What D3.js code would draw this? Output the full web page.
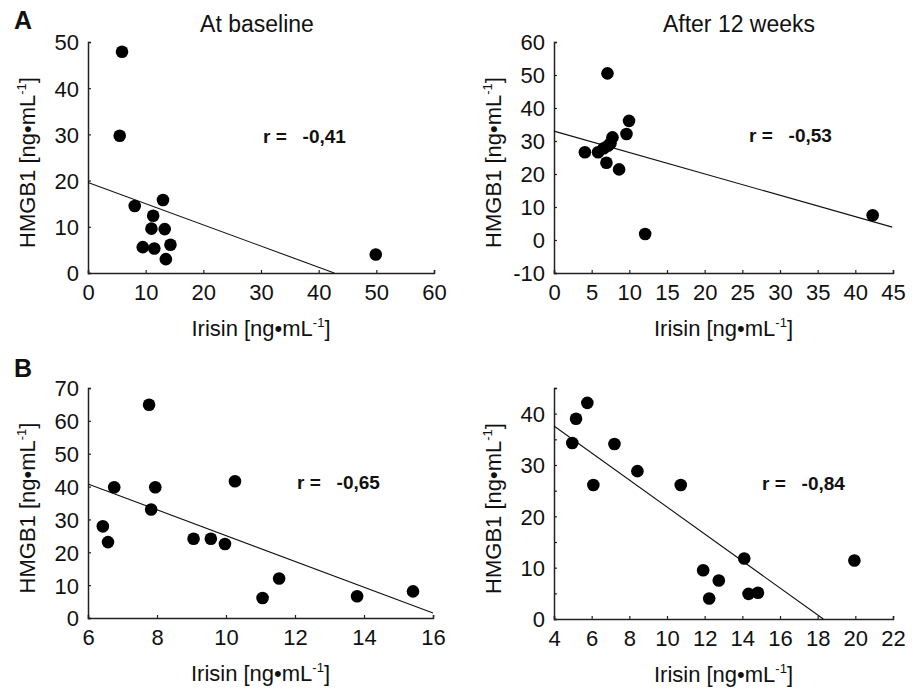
<!DOCTYPE html>
<html>
<head>
<meta charset="utf-8">
<script src="https://cdn.jsdelivr.net/npm/d3@7"></script>
<style>
  body { margin: 0; background: #fff; }
  text { font-family: "Liberation Sans", Arial, sans-serif; fill: #111; }
</style>
</head>
<body>
<div id="chart"></div>
<script>
// Panel A, at baseline
var a1Irisin = [5.9, 5.5, 8.1, 13.0, 11.3, 11.0, 13.3, 9.5, 11.5, 14.3, 13.5, 49.9];
var a1Hmgb1  = [47.9, 29.7, 14.5, 15.8, 12.4, 9.6, 9.5, 5.6, 5.3, 6.1, 3.0, 4.0];
var a1Fit    = [[0, 19.6], [42.7, 0]];

// Panel A, after 12 weeks
var a2Irisin = [7.1, 4.1, 5.85, 6.6, 7.5, 7.2, 7.76, 9.62, 9.96, 6.96, 8.64, 12.1, 42.3];
var a2Hmgb1  = [50.5, 26.6, 26.6, 27.8, 29.3, 28.6, 31.1, 32.1, 36.1, 23.4, 21.4, 1.8, 7.5];
var a2Fit    = [[0, 33.0], [44.9, 3.9]];

// Panel B, at baseline
var b1Irisin = [7.77, 6.76, 7.95, 10.26, 7.83, 6.43, 6.58, 9.06, 9.56, 9.97, 11.54, 11.06, 13.8, 15.42];
var b1Hmgb1  = [64.9, 39.8, 39.8, 41.6, 33.0, 27.9, 23.1, 24.1, 24.1, 22.5, 12.0, 6.1, 6.6, 8.1];
var b1Fit    = [[6, 40.8], [16, 1.5]];

// Panel B, after 12 weeks
var b2Irisin = [5.77, 5.17, 4.97, 7.21, 6.09, 8.43, 10.73, 14.1, 19.95, 11.92, 12.75, 12.24, 14.33, 14.83];
var b2Hmgb1  = [42.1, 39.0, 34.3, 34.1, 26.1, 28.8, 26.1, 11.8, 11.4, 9.5, 7.5, 4.0, 4.9, 5.1];
var b2Fit    = [[4, 37.6], [18.3, 0]];

var rValues = ["-0,41", "-0,53", "-0,65", "-0,84"];
var titles = ["At baseline", "After 12 weeks"];
var panelLetters = ["A", "B"];

var a1XTicks = [0, 10, 20, 30, 40, 50, 60], a1YTicks = [0, 10, 20, 30, 40, 50];
var a2XTicks = [0, 5, 10, 15, 20, 25, 30, 35, 40, 45], a2YTicks = [-10, 0, 10, 20, 30, 40, 50, 60];
var b1XTicks = [6, 8, 10, 12, 14, 16], b1YTicks = [0, 10, 20, 30, 40, 50, 60, 70];
var b2XTicks = [4, 6, 8, 10, 12, 14, 16, 18, 20, 22], b2YTicks = [0, 5, 10, 15, 20, 25, 30, 35, 40, 45];
var b2YLabels = [0, 10, 20, 30, 40];

var svg = d3.select("#chart").append("svg")
  .attr("width", 914)
  .attr("height", 691);

var panels = [
  {x: a1Irisin, y: a1Hmgb1, fit: a1Fit, xd: [0, 60], yd: [0, 50], xt: a1XTicks, yt: a1YTicks, yl: a1YTicks,
   box: {l: 88, r: 434, t: 42, b: 273}, r: rValues[0], rx: 263, ry: 143},
  {x: a2Irisin, y: a2Hmgb1, fit: a2Fit, xd: [0, 45], yd: [-10, 60], xt: a2XTicks, yt: a2YTicks, yl: a2YTicks,
   box: {l: 554, r: 893, t: 42, b: 273}, r: rValues[1], rx: 749, ry: 142},
  {x: b1Irisin, y: b1Hmgb1, fit: b1Fit, xd: [6, 16], yd: [0, 70], xt: b1XTicks, yt: b1YTicks, yl: b1YTicks,
   box: {l: 88, r: 433, t: 388, b: 618}, r: rValues[2], rx: 297, ry: 489},
  {x: b2Irisin, y: b2Hmgb1, fit: b2Fit, xd: [4, 22], yd: [0, 45], xt: b2XTicks, yt: b2YTicks, yl: b2YLabels,
   box: {l: 554, r: 893, t: 388, b: 619}, r: rValues[3], rx: 762, ry: 490}
];

panels.forEach(function(p, i) {
  var x = d3.scaleLinear().domain(p.xd).range([p.box.l, p.box.r]);
  var y = d3.scaleLinear().domain(p.yd).range([p.box.b, p.box.t]);
  var g = svg.append("g");

  // x axis, small ticks pointing inward
  var xa = g.append("g")
    .attr("transform", "translate(0," + p.box.b + ")")
    .call(d3.axisBottom(x).tickValues(p.xt).tickSize(-3).tickPadding(10).tickFormat(d3.format("d")));
  // y axis
  var ya = g.append("g")
    .attr("transform", "translate(" + p.box.l + ",0)")
    .call(d3.axisLeft(y).tickValues(p.yt).tickSize(-3).tickPadding(9)
      .tickFormat(function(d) { return p.yl.indexOf(d) >= 0 ? d : ""; }));

  [xa, ya].forEach(function(a) {
    a.select(".domain").attr("stroke", "#222").attr("stroke-width", 1.5);
    a.selectAll(".tick line").attr("stroke", "#222").attr("stroke-width", 1.2);
    a.selectAll(".tick text")
      .style("font-family", '"Liberation Sans", Arial, sans-serif')
      .attr("font-size", 22)
      .attr("fill", "#111");
  });
  xa.selectAll(".tick text").attr("dy", "0.75em");
  ya.selectAll(".tick text").attr("dy", "0.36em");

  // regression line
  g.append("path")
    .datum(p.fit)
    .attr("fill", "none")
    .attr("stroke", "#111")
    .attr("stroke-width", 1.1)
    .attr("d", d3.line().x(function(d) { return x(d[0]); }).y(function(d) { return y(d[1]); }));

  // points
  g.selectAll("circle")
    .data(d3.range(p.x.length))
    .enter().append("circle")
    .attr("cx", function(k) { return x(p.x[k]); })
    .attr("cy", function(k) { return y(p.y[k]); })
    .attr("r", 6.3)
    .attr("fill", "#000");

  // correlation text
  g.append("text")
    .attr("x", p.rx)
    .attr("y", p.ry)
    .attr("font-size", 19)
    .attr("font-weight", "bold")
    .style("white-space", "pre")
    .text("r =   " + p.r);

  // axis titles
  var cx = (p.box.l + p.box.r) / 2;
  var xl = g.append("text")
    .attr("x", cx)
    .attr("y", p.box.b + 63)
    .attr("text-anchor", "middle")
    .attr("font-size", 22);
  xl.append("tspan").text("Irisin [ng\u2022mL");
  xl.append("tspan").attr("dy", -9).attr("font-size", 13).text("-1");
  xl.append("tspan").attr("dy", 9).text("]");

  var cy = (p.box.t + p.box.b) / 2 + 5;
  var yl = g.append("text")
    .attr("transform", "translate(" + (p.box.l - 53) + "," + cy + ") rotate(-90)")
    .attr("text-anchor", "middle")
    .attr("font-size", 22);
  yl.append("tspan").text("HMGB1 [ng\u2022mL");
  yl.append("tspan").attr("dy", -9).attr("font-size", 13).text("-1");
  yl.append("tspan").attr("dy", 9).text("]");
});

// column titles
svg.selectAll(".title")
  .data(titles)
  .enter().append("text")
  .attr("class", "title")
  .attr("x", function(d, i) { return i === 0 ? 257 : 739; })
  .attr("y", 32)
  .attr("text-anchor", "middle")
  .attr("font-size", 23)
  .text(function(d) { return d; });

// panel letters
svg.selectAll(".letter")
  .data(panelLetters)
  .enter().append("text")
  .attr("class", "letter")
  .attr("x", 14)
  .attr("y", function(d, i) { return i === 0 ? 29 : 377; })
  .attr("font-size", 25)
  .attr("font-weight", "bold")
  .text(function(d) { return d; });
</script>
</body>
</html>
